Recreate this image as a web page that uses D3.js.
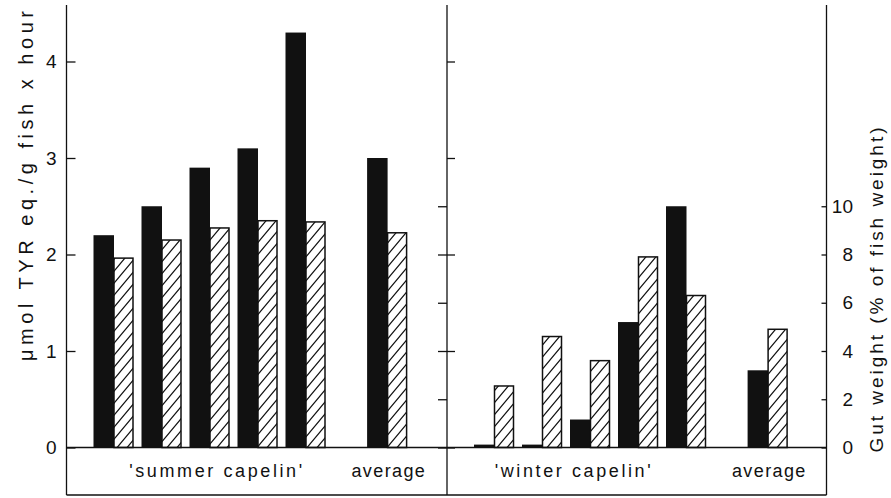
<!DOCTYPE html>
<html>
<head>
<meta charset="utf-8">
<script src="https://cdn.jsdelivr.net/npm/d3@7"></script>
<style>
  html, body { margin: 0; padding: 0; background: #fff; }
  svg { display: block; }
  text { font-family: "Liberation Sans", Arial, Helvetica, sans-serif; fill: #111; }
</style>
</head>
<body>
<svg id="chart" width="891" height="498"></svg>
<script>
// Proteolytic activity (μmol TYR eq./g fish x hour) — solid bars, left axis
const summerActivity = [2.2, 2.5, 2.9, 3.1, 4.3];
const summerActivityAvg = 3.0;
const winterActivity = [0.03, 0.03, 0.29, 1.3, 2.5];
const winterActivityAvg = 0.8;

// Gut weight (% of fish weight) — hatched bars, right axis
const summerGut = [7.85, 8.6, 9.1, 9.4, 9.35];
const summerGutAvg = 8.9;
const winterGut = [2.55, 4.6, 3.6, 7.9, 6.3];
const winterGutAvg = 4.9;

// Axis ticks and labels
const activityTicks = [0, 1, 2, 3, 4];
const gutTicks = [0, 2, 4, 6, 8, 10];
const panelLabels = ["'summer capelin'", "'winter capelin'"];
const averageLabel = "average";
const leftTitle = "μmol TYR eq./g fish x hour";
const rightTitle = "Gut weight (% of fish weight)";

const svg = d3.select("#chart");
const ink = "#111";

// Frame geometry
const xLeft = 66.5, xMid = 447, xRight = 826.5;
const yTop = 5, yBottom = 495;

const yAct = d3.scaleLinear().domain([0, 4]).range([447.5, 61.5]);
const yGut = d3.scaleLinear().domain([0, 10]).range([447.5, yAct(2.5)]);

// Hatch pattern for the gut-weight bars
const defs = svg.append("defs");
defs.append("pattern")
  .attr("id", "hatch")
  .attr("patternUnits", "userSpaceOnUse")
  .attr("width", 10).attr("height", 12)
  .append("path")
  .attr("d", "M0,12 L10,0 M-2,2.4 L2,-2.4 M8,14.4 L12,9.6")
  .attr("stroke", ink).attr("stroke-width", 1.2).attr("fill", "none");

// Slot positions inside a panel: five samples then the average after a gap
const slotIndex = [0, 1, 2, 3, 4, 5.7];
const blackW = 20.5, hatchW = 19;

function drawPanel(left, activity, activityAvg, gut, gutAvg, label, labelX) {
  const x = d3.scaleLinear().domain([0, 1]).range([left + 27, left + 27 + 48]);
  const act = activity.concat([activityAvg]);
  const gw = gut.concat([gutAvg]);
  const g = svg.append("g");

  g.selectAll("rect.act").data(act).enter().append("rect")
    .attr("class", "act")
    .attr("x", (d, i) => x(slotIndex[i]))
    .attr("width", blackW)
    .attr("y", d => yAct(d))
    .attr("height", d => yAct(0) - yAct(d))
    .attr("fill", ink);

  g.selectAll("rect.gut").data(gw).enter().append("rect")
    .attr("class", "gut")
    .attr("x", (d, i) => x(slotIndex[i]) + blackW)
    .attr("width", hatchW)
    .attr("y", d => yGut(d))
    .attr("height", d => yGut(0) - yGut(d))
    .attr("fill", "url(#hatch)")
    .attr("stroke", ink).attr("stroke-width", 1.5);

  g.append("text")
    .attr("x", labelX).attr("y", 477)
    .attr("text-anchor", "middle")
    .attr("font-size", 18)
    .attr("letter-spacing", 2.6)
    .text(label);

  g.append("text")
    .attr("x", x(slotIndex[5]) + (blackW + hatchW) / 2 + 2)
    .attr("y", 477)
    .attr("text-anchor", "middle")
    .attr("font-size", 18)
    .attr("letter-spacing", 1.4)
    .text(averageLabel);
}

drawPanel(xLeft, summerActivity, summerActivityAvg, summerGut, summerGutAvg, panelLabels[0], 217);
drawPanel(xMid, winterActivity, winterActivityAvg, winterGut, winterGutAvg, panelLabels[1], 574);

// Frame lines
const frame = svg.append("g").attr("stroke", ink).attr("stroke-width", 1.3).attr("fill", "none");
[xLeft, xMid, xRight].forEach(xv => {
  frame.append("line").attr("x1", xv).attr("x2", xv).attr("y1", yTop).attr("y2", yBottom);
});
frame.append("line").attr("x1", xLeft).attr("x2", xRight).attr("y1", yAct(0)).attr("y2", yAct(0));
frame.append("line").attr("x1", xLeft).attr("x2", xRight).attr("y1", yBottom).attr("y2", yBottom);

function styleAxis(sel) {
  sel.select(".domain").remove();
  sel.selectAll(".tick line").attr("stroke", ink).attr("stroke-width", 1.3);
  sel.selectAll(".tick text").attr("font-size", 19).attr("fill", ink)
    .attr("font-family", "Liberation Sans, Arial, sans-serif");
}

// Left axis: inward ticks, labels outside
svg.append("g").attr("transform", `translate(${xLeft},0)`)
  .call(d3.axisLeft(yAct).tickValues(activityTicks).tickFormat(d3.format("d"))
    .tickSizeInner(-9).tickSizeOuter(0).tickPadding(10))
  .call(styleAxis);

// Divider: activity ticks to the right, gut-weight ticks to the left
svg.append("g").attr("transform", `translate(${xMid},0)`)
  .call(d3.axisLeft(yAct).tickValues(activityTicks).tickFormat("")
    .tickSizeInner(-8).tickSizeOuter(0))
  .call(styleAxis);
svg.append("g").attr("transform", `translate(${xMid},0)`)
  .call(d3.axisRight(yGut).tickValues(gutTicks).tickFormat("")
    .tickSizeInner(-9).tickSizeOuter(0))
  .call(styleAxis);

// Right axis: gut weight
const rightAxis = svg.append("g").attr("transform", `translate(${xRight},0)`)
  .call(d3.axisRight(yGut).tickValues(gutTicks).tickFormat(d3.format("d"))
    .tickSizeInner(-5).tickSizeOuter(0).tickPadding(6))
  .call(styleAxis);
rightAxis.selectAll(".tick text").attr("text-anchor", "end").attr("x", 26.5);

// Axis titles
svg.append("text")
  .attr("transform", "translate(33,186) rotate(-90)")
  .attr("text-anchor", "middle")
  .attr("font-size", 20)
  .attr("textLength", 350)
  .attr("lengthAdjust", "spacing")
  .text(leftTitle);

svg.append("text")
  .attr("transform", "translate(883,290) rotate(-90)")
  .attr("text-anchor", "middle")
  .attr("font-size", 19)
  .attr("textLength", 325)
  .attr("lengthAdjust", "spacing")
  .text(rightTitle);
</script>
</body>
</html>
